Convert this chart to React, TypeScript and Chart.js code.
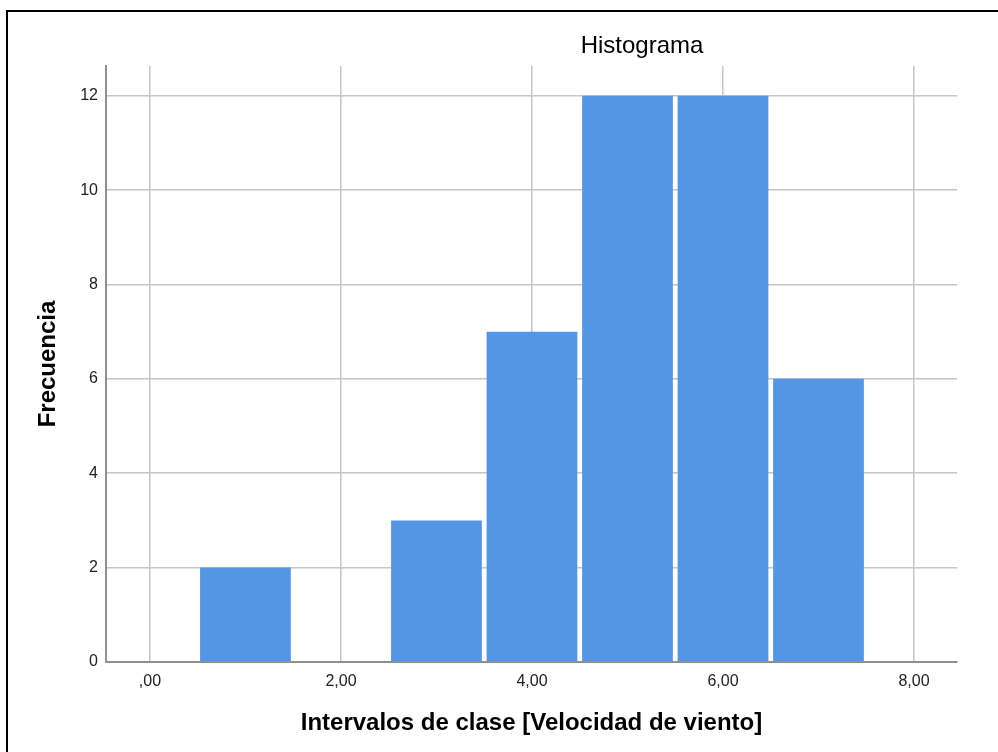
import React, { useEffect, useRef } from "react";
import { Chart, registerables } from "chart.js";

Chart.register(...registerables);

// ---- data ----
const binCenters: number[] = [1, 3, 4, 5, 6, 7];
const frequencies: number[] = [2, 3, 7, 12, 12, 6];
const xTickValues: number[] = [0, 2, 4, 6, 8];
const xTickLabels: string[] = [",00", "2,00", "4,00", "6,00", "8,00"];
const yTickValues: number[] = [0, 2, 4, 6, 8, 10, 12];
const yTickLabels: string[] = ["0", "2", "4", "6", "8", "10", "12"];
const chartTitle = "Histograma";
const xAxisTitle = "Intervalos de clase [Velocidad de viento]";
const yAxisTitle = "Frecuencia";
const xRange: [number, number] = [-0.46, 8.45];
const yRange: [number, number] = [0, 12.63];

const FONT = "'Liberation Sans', Arial, sans-serif";

const titlePlugin = {
  id: "spssTitle",
  afterDraw(chart: any) {
    const ctx = chart.ctx;
    ctx.save();
    ctx.font = `normal 24px ${FONT}`;
    ctx.fillStyle = "#000";
    ctx.textAlign = "center";
    ctx.textBaseline = "middle";
    ctx.fillText(chartTitle, 642, 46);
    ctx.restore();
  },
};

export default function App() {
  const canvasRef = useRef<HTMLCanvasElement | null>(null);

  useEffect(() => {
    const canvas = canvasRef.current;
    if (!canvas) return;
    const chart = new Chart(canvas, {
      type: "bar",
      data: {
        datasets: [
          {
            data: binCenters.map((x, i) => ({ x, y: frequencies[i] })),
            backgroundColor: "rgb(84,150,229)",
            borderWidth: 0,
            barPercentage: 0.95,
            categoryPercentage: 1,
          },
        ],
      },
      options: {
        animation: false,
        responsive: false,
        maintainAspectRatio: false,
        events: [],
        layout: { padding: { left: 8, top: 66, right: 41, bottom: 0 } },
        plugins: {
          legend: { display: false },
          tooltip: { enabled: false },
          title: { display: false },
        },
        scales: {
          x: {
            type: "linear",
            min: xRange[0],
            max: xRange[1],
            offset: false,
            afterBuildTicks: (scale: any) => {
              scale.ticks = xTickValues.map((v) => ({ value: v }));
            },
            afterFit: (scale: any) => {
              scale.height = 90;
            },
            ticks: {
              padding: 9.5,
              color: "#222",
              font: { family: FONT, size: 16 },
              maxRotation: 0,
              autoSkip: false,
              callback: (_v: any, i: number) => xTickLabels[i],
            },
            grid: {
              offset: false,
              drawTicks: false,
              color: "#c6c6c6",
              lineWidth: 1.5,
            },
            border: { display: true, color: "#8f8f8f", width: 2 },
            title: {
              display: true,
              text: xAxisTitle,
              color: "#000",
              font: { family: FONT, size: 24, weight: "bold" },
              padding: { top: 0, bottom: 14.6 },
            },
          },
          y: {
            type: "linear",
            min: yRange[0],
            max: yRange[1],
            afterBuildTicks: (scale: any) => {
              scale.ticks = yTickValues.map((v) => ({ value: v }));
            },
            afterFit: (scale: any) => {
              scale.width = 98;
            },
            ticks: {
              padding: 8,
              color: "#222",
              font: { family: FONT, size: 16 },
              autoSkip: false,
              callback: (_v: any, i: number) => yTickLabels[i],
            },
            grid: {
              drawTicks: false,
              color: (c: any) =>
                c.tick && c.tick.value === 0 ? "rgba(0,0,0,0)" : "#c6c6c6",
              lineWidth: 1.5,
            },
            border: { display: true, color: "#8f8f8f", width: 2 },
            title: {
              display: true,
              text: yAxisTitle,
              color: "#000",
              font: { family: FONT, size: 24, weight: "bold" },
              padding: { top: 25.6, bottom: 0 },
            },
          },
        },
      },
      plugins: [titlePlugin],
    } as any);
    return () => chart.destroy();
  }, []);

  return (
    <div
      style={{
        position: "fixed",
        left: 0,
        top: 0,
        width: 998,
        height: 752,
        overflow: "hidden",
        background: "#fff",
      }}
    >
      <canvas
        ref={canvasRef}
        width={998}
        height={752}
        style={{ position: "absolute", left: 0, top: 0, width: 998, height: 752 }}
      />
      <div
        style={{
          position: "absolute",
          left: 6,
          top: 10,
          width: 1100,
          height: 900,
          border: "2px solid #000",
          pointerEvents: "none",
        }}
      />
    </div>
  );
}
